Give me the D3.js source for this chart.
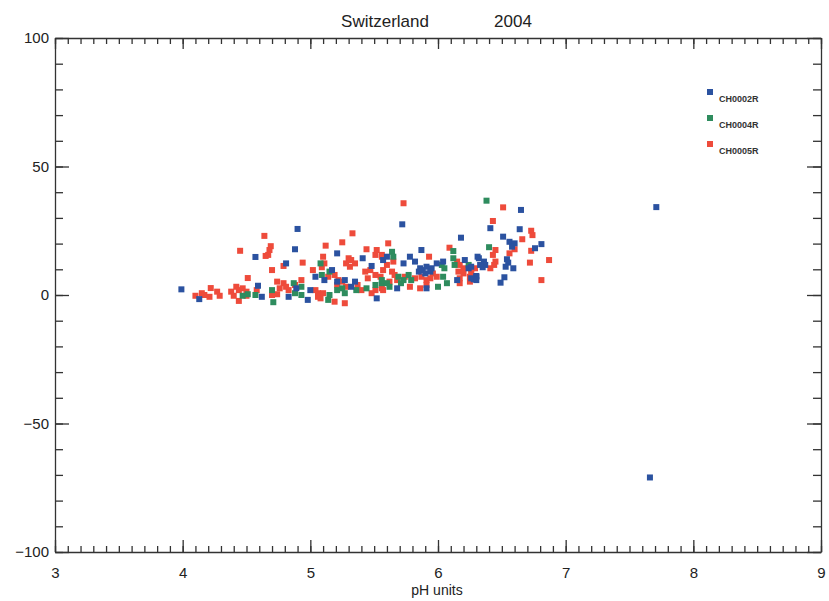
<!DOCTYPE html>
<html>
<head>
<meta charset="utf-8">
<script src="https://cdn.jsdelivr.net/npm/d3@7"></script>
<style>
  body { margin: 0; background: #fff; }
  text { font-family: "Liberation Sans", Arial, sans-serif; }
</style>
</head>
<body>
<svg id="chart" width="829" height="601"></svg>
<script>
var stations = ['CH0002R', 'CH0004R', 'CH0005R'];
var colors = ['#2b52a0', '#2e8c5e', '#ee4b3b'];

var xTicks = [3, 4, 5, 6, 7, 8, 9];
var yTicks = [-100, -50, 0, 50, 100];

// [pH, value] pairs
var ch0002 = [
  [3.99,2.2],[4.13,-1.6],[4.57,14.8],[4.59,3.6],[4.62,-0.7],
  [4.90,25.7],[4.88,17.8],[5.21,16.2],[4.81,12.3],[5.41,14.3],[5.48,11.3],[5.17,9.7],[5.04,7.1],[5.11,5.8],
  [4.89,2.6],[5.00,1.9],[4.83,-0.7],[4.98,-1.9],[5.21,5.2],[5.27,5.8],[5.35,5.2],[5.32,3.2],[5.52,-1.3],
  [5.72,27.5],[6.18,22.3],[5.87,17.5],[5.78,14.9],[5.82,13.0],[5.73,12.3],[5.60,14.9],[5.57,13.6],[5.86,10.4],
  [5.88,9.7],[5.91,11.0],[5.95,10.4],[5.94,9.1],[5.90,8.4],[5.85,9.1],[5.99,12.3],[6.04,13.0],[5.68,2.6],
  [5.91,2.6],[6.21,13.6],[6.24,10.4],[6.26,11.0],[6.30,7.1],[6.31,14.9],[6.15,5.8],
  [6.65,33.1],[6.41,26.0],[6.64,25.6],[6.51,22.7],[6.56,20.7],[6.60,20.1],[6.58,18.8],[6.81,19.8],[6.76,18.2],
  [6.32,14.3],[6.36,13.0],[6.37,11.7],[6.35,10.8],[6.33,11.7],[6.54,13.9],[6.55,12.6],[6.53,11.0],[6.59,10.4],
  [6.30,7.4],[6.28,6.1],[6.26,6.5],[6.30,5.8],[6.52,6.9],[6.49,4.8],
  [7.71,34.2],[7.66,-71.0]
];

var ch0004 = [
  [4.47,-0.3],[4.51,0.3],[4.57,0.0],[4.70,1.9],[4.71,-2.8],
  [5.08,12.3],[5.15,9.1],[5.09,7.8],[4.87,4.6],[4.93,3.2],[4.88,0.7],[4.93,0.0],[5.15,0.0],[5.21,1.9],
  [5.25,2.6],[5.27,0.7],[5.14,-1.9],[5.36,1.9],[5.44,2.6],[5.51,3.9],[5.56,4.6],
  [5.64,16.8],[5.65,14.9],[6.03,11.7],[6.05,10.4],[5.77,7.8],[5.79,5.8],[5.73,5.8],[5.69,7.1],[5.60,4.6],
  [5.62,3.2],[5.71,4.6],[5.56,5.8],[6.04,7.1],[6.07,4.6],[6.00,3.2],[6.12,14.3],[6.13,11.7],[6.24,11.7],[6.12,17.1],
  [6.38,36.7],[6.40,18.6]
];

var ch0005 = [
  [4.64,23.0],[4.69,19.0],[4.68,17.5],[4.67,15.6],[4.45,17.2],[4.65,15.2],[4.70,9.7],[4.51,6.6],[4.22,2.7],
  [4.10,-0.3],[4.15,0.7],[4.17,0.0],[4.21,-0.7],[4.27,1.3],[4.29,-0.3],[4.38,1.3],[4.42,3.2],[4.44,1.9],
  [4.47,2.6],[4.50,1.3],[4.50,-0.3],[4.40,-0.3],[4.44,-2.3],[4.58,1.9],[4.70,0.0],[4.74,0.3],
  [5.33,24.0],[5.12,19.2],[5.25,20.5],[5.44,17.8],[5.52,17.5],[5.10,14.9],[5.11,12.3],[5.09,10.8],[4.79,11.3],
  [4.94,12.6],[5.30,14.3],[5.32,13.6],[5.35,12.3],[5.31,11.0],[5.28,12.3],[5.51,15.6],[5.56,14.9],[5.43,9.1],
  [5.47,9.7],[5.51,7.8],[5.45,6.5],[5.55,7.1],[5.02,9.7],[5.14,7.1],[5.19,7.8],[5.22,5.8],[4.74,5.2],[4.79,4.6],
  [4.83,1.9],[4.76,2.6],[4.81,3.2],[4.88,3.9],[4.93,5.8],[5.04,1.9],[5.10,0.7],[5.08,-1.3],[5.06,0.7],[5.25,5.2],
  [5.21,3.9],[5.28,3.2],[5.37,3.9],[5.40,1.9],[5.48,0.7],[5.51,1.9],[5.56,2.6],[5.06,-0.7],[5.19,-2.6],[5.27,-3.2],
  [5.73,35.7],[5.61,20.1],[6.09,18.4],[5.93,14.9],[5.56,15.6],[5.65,13.0],[5.60,11.7],[5.57,9.7],[5.64,9.1],
  [5.96,8.4],[5.94,6.5],[5.87,7.1],[5.82,6.5],[5.91,5.8],[5.99,7.1],[5.74,7.1],[5.66,7.8],[5.68,5.8],[5.62,5.2],
  [5.78,3.2],[5.86,2.6],[5.91,3.9],[5.57,1.9],[6.15,13.0],[6.17,11.7],[6.20,10.4],[6.16,9.1],[6.20,8.4],
  [6.25,7.1],[6.17,6.5],[6.26,9.1],[6.29,10.4],[6.17,4.6],[6.25,5.2],
  [6.51,34.1],[6.43,28.8],[6.73,25.0],[6.74,23.3],[6.66,21.7],[6.73,17.2],[6.45,17.5],[6.60,17.8],[6.56,16.2],
  [6.87,13.6],[6.72,12.6],[6.43,15.6],[6.45,13.0],[6.41,10.4],[6.44,11.7],[6.26,10.0],[6.27,7.4],[6.81,5.8]
];

var series = [ch0002, ch0004, ch0005];

var plotLeft = 55, plotRight = 821, plotTop = 38, plotBottom = 552;
var svg = d3.select('#chart');

var x = d3.scaleLinear().domain([3, 9]).range([plotLeft, plotRight]);
var y = d3.scaleLinear().domain([-100, 100]).range([plotBottom, plotTop]);

var axisColor = '#333';

function styleAxis(g) {
  g.selectAll('path, line').attr('stroke', axisColor).attr('stroke-width', 1.3);
  g.selectAll('text').attr('fill', '#222').attr('font-size', 15);
}

var xMinor = d3.range(3, 9.001, 0.1);
var yMinor = d3.range(-100, 100.001, 10);

// bottom axis, ticks pointing up
svg.append('g').attr('transform', 'translate(0,' + plotBottom + ')')
  .call(d3.axisBottom(x).tickValues(xMinor).tickSize(-6).tickFormat('').tickSizeOuter(0))
  .call(styleAxis);
svg.append('g').attr('transform', 'translate(0,' + plotBottom + ')')
  .call(d3.axisBottom(x).tickValues(xTicks).tickSize(-12).tickPadding(15).tickFormat(d3.format('d')).tickSizeOuter(0))
  .call(styleAxis)
  .call(function(g) { g.select('.domain').remove(); });

// top axis, ticks pointing down
svg.append('g').attr('transform', 'translate(0,' + plotTop + ')')
  .call(d3.axisTop(x).tickValues(xMinor).tickSize(-6).tickFormat('').tickSizeOuter(0))
  .call(styleAxis);
svg.append('g').attr('transform', 'translate(0,' + plotTop + ')')
  .call(d3.axisTop(x).tickValues(xTicks).tickSize(-11).tickFormat('').tickSizeOuter(0))
  .call(styleAxis)
  .call(function(g) { g.select('.domain').remove(); });

// left axis, ticks pointing right
svg.append('g').attr('transform', 'translate(' + plotLeft + ',0)')
  .call(d3.axisLeft(y).tickValues(yMinor).tickSize(-8).tickFormat('').tickSizeOuter(0))
  .call(styleAxis);
svg.append('g').attr('transform', 'translate(' + plotLeft + ',0)')
  .call(d3.axisLeft(y).tickValues(yTicks).tickSize(-14).tickPadding(6).tickFormat(d3.format('d')).tickSizeOuter(0))
  .call(styleAxis)
  .call(function(g) { g.select('.domain').remove(); });

// right axis, ticks pointing left
svg.append('g').attr('transform', 'translate(' + plotRight + ',0)')
  .call(d3.axisRight(y).tickValues(yMinor).tickSize(-8).tickFormat('').tickSizeOuter(0))
  .call(styleAxis);
svg.append('g').attr('transform', 'translate(' + plotRight + ',0)')
  .call(d3.axisRight(y).tickValues(yTicks).tickSize(-14).tickFormat('').tickSizeOuter(0))
  .call(styleAxis)
  .call(function(g) { g.select('.domain').remove(); });

// markers
var size = 6;
[2, 1, 0].forEach(function(i) {
  svg.append('g').selectAll('rect')
    .data(series[i])
    .enter().append('rect')
    .attr('x', function(d) { return x(d[0]) - size / 2; })
    .attr('y', function(d) { return y(d[1]) - size / 2; })
    .attr('width', size)
    .attr('height', size)
    .attr('fill', colors[i]);
});

// title and x label
svg.append('text').attr('x', 385).attr('y', 27).attr('text-anchor', 'middle')
  .attr('font-size', 17).attr('fill', '#222').text('Switzerland');
svg.append('text').attr('x', 513).attr('y', 27).attr('text-anchor', 'middle')
  .attr('font-size', 17).attr('fill', '#222').text('2004');
svg.append('text').attr('x', 437).attr('y', 595).attr('text-anchor', 'middle')
  .attr('font-size', 14).attr('fill', '#222').text('pH units');

// legend
var legend = svg.append('g').selectAll('g')
  .data(stations)
  .enter().append('g')
  .attr('transform', function(d, i) { return 'translate(710,' + (92 + i * 26) + ')'; });
legend.append('rect').attr('x', -3).attr('y', -3).attr('width', 6).attr('height', 6)
  .attr('fill', function(d, i) { return colors[i]; });
legend.append('text').attr('x', 9).attr('y', 10)
  .attr('font-size', 9).attr('font-weight', 'bold').attr('fill', '#333')
  .text(function(d) { return d; });
</script>
</body>
</html>
